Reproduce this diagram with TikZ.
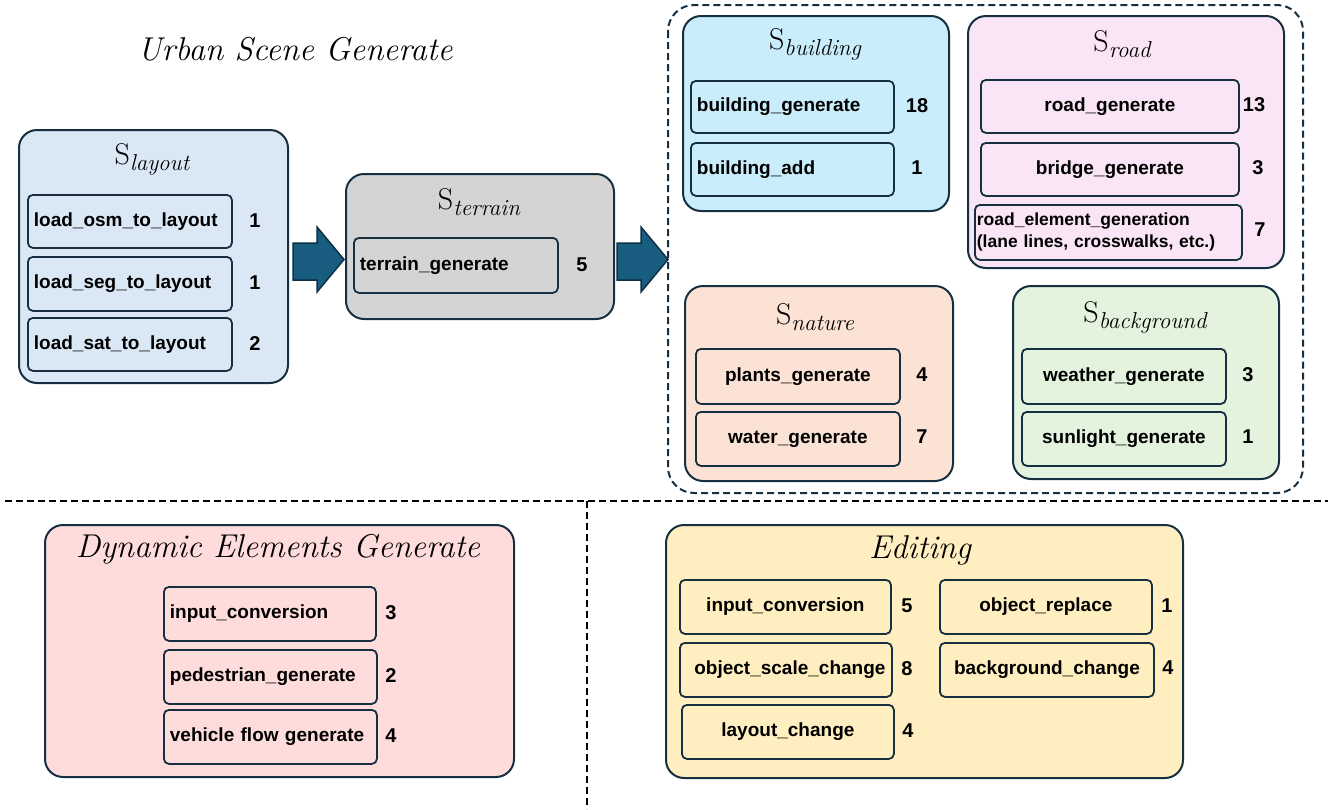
\documentclass[tikz,border=0pt]{standalone}
\usepackage{fontspec}
\newfontfamily\lblfam{Liberation Sans}
\newcommand\myLbl{\lblfam\bfseries\fontsize{19}{23}\selectfont}
\newcommand\mySmallLbl{\lblfam\bfseries\fontsize{17.5}{22}\selectfont}
\newcommand\myNum{\lblfam\bfseries\fontsize{20}{23}\selectfont}
\newcommand\myTtl{\rmfamily\fontsize{30}{34}\selectfont}
\newcommand\myBigTtl{\rmfamily\itshape\fontsize{33}{38}\selectfont}
\newcommand\stagename[1]{S\raisebox{-6pt}{\fontsize{23}{26}\selectfont\itshape #1}}
\definecolor{navy}{RGB}{22,48,66}
\definecolor{cLayout}{RGB}{218,232,245}
\definecolor{cTerrain}{RGB}{212,212,212}
\definecolor{cBuilding}{RGB}{202,237,251}
\definecolor{cRoad}{RGB}{249,229,245}
\definecolor{cNature}{RGB}{251,226,213}
\definecolor{cBack}{RGB}{227,243,221}
\definecolor{cDyn}{RGB}{255,220,220}
\definecolor{cEdit}{RGB}{255,239,192}
\definecolor{arrowblue}{RGB}{24,93,128}
\definecolor{arrowdark}{RGB}{14,48,68}
\tikzset{
  stage/.style={draw=navy, line width=2pt, rounded corners=18pt, anchor=north west, inner sep=0pt},
  fn/.style={draw=navy, line width=1.8pt, rounded corners=5pt, anchor=north west, inner xsep=6pt, inner ysep=0pt, font=\myLbl, text=black},
  num/.style={font=\myNum, text=black},
  ttl/.style={font=\myTtl, text=black},
  bigttl/.style={font=\myBigTtl, text=black},
  blockarrow/.style={fill=arrowblue, draw=arrowdark, line width=1.5pt, line join=miter},
  groupbox/.style={draw=navy, line width=2pt, rounded corners=26pt, dash pattern=on 7pt off 4pt},
  sepline/.style={draw=black, line width=2pt, dash pattern=on 7pt off 4pt}
}
\begin{document}
\begin{tikzpicture}[x=1pt,y=-1pt]
\useasboundingbox (0,0) rectangle (1328,809);

% ---------- title
\node[bigttl] (urban) at (295,49) {Urban Scene Generate};

% ---------- S_layout
\node[stage, fill=cLayout, minimum width=269pt, minimum height=253pt] (layout) at (18,129) {};
\node[ttl] (layoutT) at (152,159) {\stagename{layout}};
\node[fn, text width=192pt, minimum height=53pt, align=left] (osm) at (27,194) {load\_osm\_to\_layout};
\node[num] (osmN) at (255,221) {1};
\node[fn, text width=192pt, minimum height=54pt, align=left] (seg) at (27,256) {load\_seg\_to\_layout};
\node[num] (segN) at (255,283) {1};
\node[fn, text width=192pt, minimum height=53pt, align=left] (sat) at (27,317) {load\_sat\_to\_layout};
\node[num] (satN) at (255,344) {2};

% ---------- S_terrain
\node[stage, fill=cTerrain, minimum width=268pt, minimum height=145pt] (terrain) at (345,173) {};
\node[ttl] (terrainT) at (479,202) {\stagename{terrain}};
\node[fn, text width=192pt, minimum height=55pt, align=left] (terr) at (353,237) {terrain\_generate};
\node[num] (terrN) at (582,265) {5};

% ---------- block arrows
\draw[blockarrow] (293,243) -- (317,243) -- (317,227) -- (344,259.5) -- (317,292) -- (317,280) -- (293,280) -- cycle;
\draw[blockarrow] (617,243) -- (641,243) -- (641,227) -- (668,259.5) -- (641,292) -- (641,280) -- (617,280) -- cycle;

% ---------- group box
\draw[groupbox] (668,5) rectangle (1303,493);

% ---------- S_building
\node[stage, fill=cBuilding, minimum width=266pt, minimum height=195pt] (building) at (682,15) {};
\node[ttl] (buildingT) at (815,44) {\stagename{building}};
\node[fn, text width=191pt, minimum height=52pt, align=left] (bgen) at (690,80) {building\_generate};
\node[num] (bgenN) at (917,106) {18};
\node[fn, text width=191pt, minimum height=53pt, align=left] (badd) at (690,142) {building\_add};
\node[num] (baddN) at (917,168) {1};

% ---------- S_road
\node[stage, fill=cRoad, minimum width=316pt, minimum height=252pt] (road) at (967,15) {};
\node[ttl] (roadT) at (1122,44) {\stagename{road}};
\node[fn, text width=246pt, minimum height=53pt, align=center] (rgen) at (980,79) {road\_generate};
\node[num] (rgenN) at (1254,105) {13};
\node[fn, text width=246pt, minimum height=53pt, align=center] (brg) at (980,142) {bridge\_generate};
\node[num] (brgN) at (1258,168) {3};
\node[fn, inner xsep=2pt, text width=263pt, minimum height=55pt, align=left, font=\mySmallLbl] (relem) at (974,204) {road\_element\_generation\\(lane lines, crosswalks, etc.)};
\node[num] (relemN) at (1260,230) {7};

% ---------- S_nature
\node[stage, fill=cNature, minimum width=268pt, minimum height=195pt] (nature) at (684,285) {};
\node[ttl] (natureT) at (815,317) {\stagename{nature}};
\node[fn, text width=192pt, minimum height=55pt, align=center] (plants) at (695,348) {plants\_generate};
\node[num] (plantsN) at (922,375) {4};
\node[fn, text width=192pt, minimum height=54pt, align=center] (water) at (695,411) {water\_generate};
\node[num] (waterN) at (922,437) {7};

% ---------- S_background
\node[stage, fill=cBack, minimum width=266pt, minimum height=193pt] (back) at (1012,285) {};
\node[ttl] (backT) at (1145,317) {\stagename{background}};
\node[fn, text width=192pt, minimum height=55pt, align=center] (weather) at (1021,348) {weather\_generate};
\node[num] (weatherN) at (1248,375) {3};
\node[fn, text width=192pt, minimum height=54pt, align=center] (sun) at (1021,411) {sunlight\_generate};
\node[num] (sunN) at (1248,437) {1};

% ---------- separators
\coordinate (hl) at (5,501);
\coordinate (hr) at (1328,501);
\coordinate (vt) at (587,501);
\coordinate (vb) at (587,809);
\draw[sepline] (hl) -- (hr);
\draw[sepline] (vt) -- (vb);

% ---------- Dynamic Elements Generate
\node[stage, fill=cDyn, minimum width=469pt, minimum height=252pt] (dyn) at (44,524) {};
\node[bigttl] (dynT) at (278,549) {Dynamic Elements Generate};
\node[fn, text width=200pt, minimum height=54pt, align=left] (dinput) at (163,586) {input\_conversion};
\node[num] (dinputN) at (391,613) {3};
\node[fn, text width=201pt, minimum height=54pt, align=left] (ped) at (163,649) {pedestrian\_generate};
\node[num] (pedN) at (391,676) {2};
\node[fn, text width=201pt, minimum height=54pt, align=left] (veh) at (163,709) {vehicle flow generate};
\node[num] (vehN) at (391,736) {4};

% ---------- Editing
\node[stage, fill=cEdit, minimum width=517pt, minimum height=253pt] (edit) at (665,524) {};
\node[bigttl] (editT) at (920,550) {Editing};
\node[fn, text width=199pt, minimum height=54pt, align=center] (einput) at (679,579) {input\_conversion};
\node[num] (einputN) at (907,606) {5};
\node[fn, text width=200pt, minimum height=54pt, align=center] (orep) at (939,579) {object\_replace};
\node[num] (orepN) at (1167,606) {1};
\node[fn, text width=200pt, minimum height=54pt, align=center] (oscale) at (679,642) {\hspace*{8pt}object\_scale\_change};
\node[num] (oscaleN) at (907,669) {8};
\node[fn, text width=202pt, minimum height=54pt, align=center] (bchg) at (939,642) {background\_change};
\node[num] (bchgN) at (1168,668) {4};
\node[fn, text width=200pt, minimum height=54pt, align=center] (lchg) at (681,704) {layout\_change};
\node[num] (lchgN) at (908,731) {4};
\end{tikzpicture}
\end{document}
